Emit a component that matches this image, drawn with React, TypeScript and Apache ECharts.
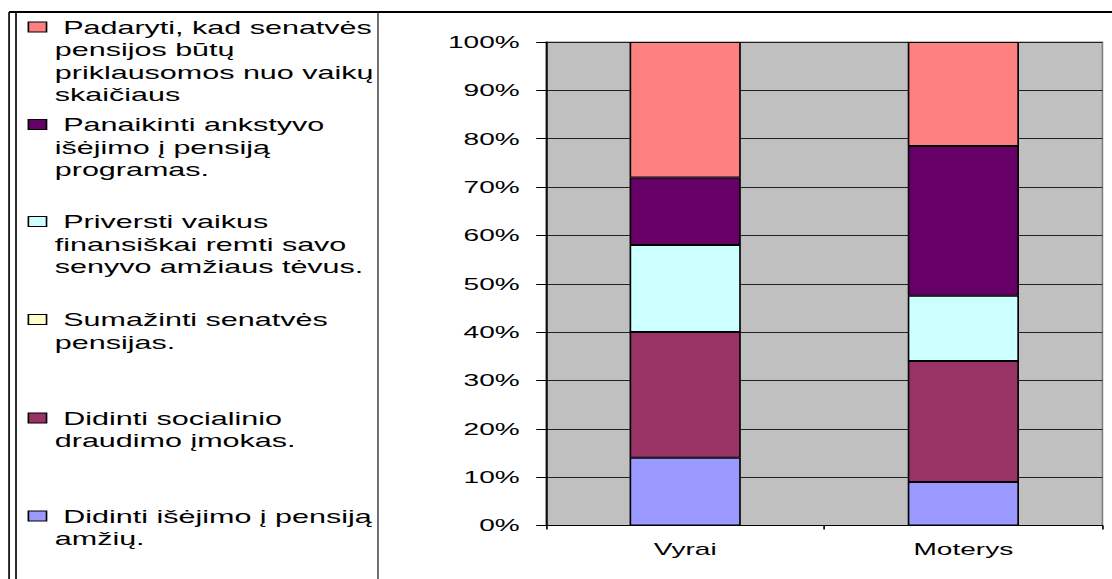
import React, { useEffect, useRef } from "react";
import * as echarts from "echarts";

// ---- data ----
const categories = ["Vyrai", "Moterys"];
const seriesNames = [
  "Didinti išėjimo į pensiją amžių.",
  "Didinti socialinio draudimo įmokas.",
  "Sumažinti senatvės pensijas.",
  "Priversti vaikus finansiškai remti savo senyvo amžiaus tėvus.",
  "Panaikinti ankstyvo išėjimo į pensiją programas.",
  "Padaryti, kad senatvės pensijos būtų priklausomos nuo vaikų skaičiaus",
];
const valuesIsejimo = [14, 9];
const valuesSocialinio = [26, 25];
const valuesSumazinti = [0, 0];
const valuesPriversti = [18, 13.5];
const valuesPanaikinti = [14, 31];
const valuesPadaryti = [28, 21.5];
const yTicks = [0, 10, 20, 30, 40, 50, 60, 70, 80, 90, 100];

const legendLines: string[][] = [
  ["Didinti išėjimo į pensiją", "amžių."],
  ["Didinti socialinio", "draudimo įmokas."],
  ["Sumažinti senatvės", "pensijas."],
  ["Priversti vaikus", "finansiškai remti savo", "senyvo amžiaus tėvus."],
  ["Panaikinti ankstyvo", "išėjimo į pensiją", "programas."],
  ["Padaryti, kad senatvės", "pensijos būtų", "priklausomos nuo vaikų", "skaičiaus"],
];

// ---- styles / layout ----
const colors = ["#9999FF", "#993366", "#FFFFCC", "#CCFFFF", "#660066", "#FF8080"];
const legendCenters = [516, 418, 319.5, 221.5, 124.5, 27];
const INNER_W = 674;
const H = 579;
const S = 1112 / INNER_W;
const FONT = "'Liberation Sans', Arial, sans-serif";
const LH = 22.6;

export default function App() {
  const ref = useRef<HTMLDivElement>(null);
  useEffect(() => {
    if (!ref.current) return;
    const chart = echarts.init(ref.current, undefined, { renderer: "svg" });
    const allValues = [
      valuesIsejimo,
      valuesSocialinio,
      valuesSumazinti,
      valuesPriversti,
      valuesPanaikinti,
      valuesPadaryti,
    ];
    const series = seriesNames.map((name, i) => ({
      name,
      type: "bar",
      stack: "total",
      barWidth: "40%",
      data: allValues[i],
      itemStyle: { color: colors[i], borderColor: "#000", borderWidth: 1 },
    }));
    const legends = seriesNames.map((name, i) => {
      const lines = legendLines[i];
      const n = lines.length;
      const blanks = new Array(n - 1).fill("").join("\n");
      const text =
        (n > 1 ? blanks + "\n" : "") +
        ["\u00A0" + lines[0], ...lines.slice(1)].join("\n");
      return {
        data: [name],
        left: 16.7,
        top: legendCenters[i] - (n - 1) * LH - LH / 2,
        orient: "vertical",
        padding: 0,
        icon: "rect",
        itemWidth: 11,
        itemHeight: 10,
        selectedMode: false,
        itemStyle: { borderColor: "#000", borderWidth: 1 },
        textStyle: { fontSize: 18.5, fontFamily: FONT, color: "#000", lineHeight: LH },
        formatter: () => text,
      };
    });
    chart.setOption({
      animation: false,
      backgroundColor: "#fff",
      legend: legends,
      grid: {
        left: 331,
        right: 5.8,
        top: 42,
        bottom: 53.5,
        show: true,
        backgroundColor: "#C0C0C0",
        borderColor: "#808080",
        borderWidth: 1,
      },
      xAxis: {
        type: "category",
        data: categories,
        axisLine: { lineStyle: { color: "#000", width: 1 } },
        axisTick: { show: true, length: 4, lineStyle: { color: "#000" } },
        axisLabel: { fontSize: 17, fontFamily: FONT, color: "#000", margin: 15 },
      },
      yAxis: {
        type: "value",
        min: yTicks[0],
        max: yTicks[yTicks.length - 1],
        interval: yTicks[1] - yTicks[0],
        axisLine: { show: true, lineStyle: { color: "#000", width: 1 } },
        axisTick: { show: true, length: 6, lineStyle: { color: "#000" } },
        splitLine: { show: true, lineStyle: { color: "#222", width: 1 } },
        axisLabel: {
          fontSize: 17,
          fontFamily: FONT,
          color: "#000",
          margin: 16,
          formatter: "{value}%",
        },
      },
      series,
      graphic: [
        { type: "line", shape: { x1: 5.5, y1: 12, x2: INNER_W, y2: 12 }, style: { stroke: "#000", lineWidth: 2 } },
        { type: "line", shape: { x1: 5.5, y1: 12, x2: 5.5, y2: H }, style: { stroke: "#000", lineWidth: 1 } },
        { type: "line", shape: { x1: 9.7, y1: 13, x2: 9.7, y2: H }, style: { stroke: "#000", lineWidth: 1 } },
        { type: "line", shape: { x1: 229.1, y1: 13, x2: 229.1, y2: H }, style: { stroke: "#555", lineWidth: 1 } },
      ],
    });
    return () => chart.dispose();
  }, []);
  return (
    <div
      ref={ref}
      style={{
        position: "absolute",
        left: 0,
        top: 0,
        width: INNER_W,
        height: H,
        transform: `scaleX(${S})`,
        transformOrigin: "0 0",
      }}
    />
  );
}
